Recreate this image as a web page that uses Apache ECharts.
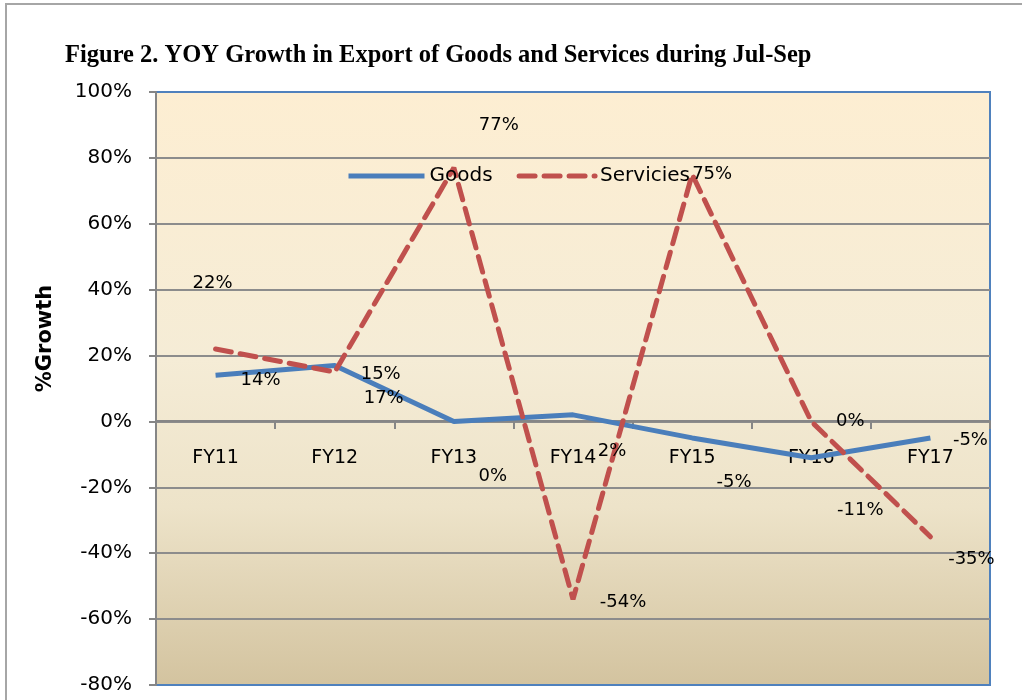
<!DOCTYPE html>
<html>
<head>
<meta charset="utf-8">
<script src="https://cdn.jsdelivr.net/npm/echarts@6/dist/echarts.min.js"></script>
<style>
  html, body { margin: 0; padding: 0; background: #fff; }
  #chart { width: 1022px; height: 700px; }
</style>
</head>
<body>
<div id="chart"></div>
<script>
var categories = ['FY11', 'FY12', 'FY13', 'FY14', 'FY15', 'FY16', 'FY17'];
var goods = [14, 17, 0, 2, -5, -11, -5];
var services = [22, 15, 77, -54, 75, 0, -35];
var yTicks = { min: -80, max: 100, step: 20 };

// where Excel left each data label, relative to its point
var goodsLabelShift = [[45, 5], [49, 33], [39, 55], [39, 36], [42, 44], [49, 53], [40, 2]];
var servicesLabelShift = [[-3, -66], [46, 2], [45, -42], [50, 3], [20, 0], [39, 0], [41, 23]];

var myChart = echarts.init(document.getElementById('chart'));

function withLabels(values, shifts) {
    return values.map(function (v, i) {
        return { value: v, label: { offset: shifts[i] } };
    });
}

var labelStyle = {
    show: true,
    position: 'inside',
    align: 'center',
    verticalAlign: 'middle',
    formatter: '{c}%',
    color: '#000',
    fontFamily: 'DejaVu Sans',
    fontSize: 18
};

// plot box (Excel plot area) and where the 0% line falls in it
var plotTop = 92, plotBottom = 15;
var zeroFromBottom = Math.round((700 - plotBottom - plotTop) * (0 - yTicks.min) / (yTicks.max - yTicks.min));

var option = {
    backgroundColor: '#fff',
    animation: false,
    title: {
        text: 'Figure 2. YOY Growth in Export of Goods and Services during Jul-Sep',
        left: 60,
        top: 38,
        textStyle: {
            fontFamily: 'Liberation Serif',
            fontWeight: 'bold',
            fontSize: 24.5,
            color: '#000'
        }
    },
    legend: {
        left: 341,
        top: 161,
        itemWidth: 76,
        itemHeight: 14,
        itemGap: 24,
        itemStyle: { opacity: 0 },
        lineStyle: { width: 5 },
        textStyle: { fontFamily: 'DejaVu Sans', fontSize: 20, color: '#000' },
        data: ['Goods', 'Servicies']
    },
    graphic: [{
        type: 'rect',
        z: -1,
        shape: { x: 6, y: 4, width: 1100, height: 800 },
        style: { fill: 'none', stroke: '#a6a6a6', lineWidth: 2 }
    }],
    grid: {
        left: 156,
        top: plotTop,
        right: 32,
        bottom: plotBottom,
        outerBoundsMode: 'none',
        containLabel: false,
        show: true,
        borderColor: '#4f81bd',
        borderWidth: 2,
        backgroundColor: {
            type: 'linear', x: 0, y: 0, x2: 0, y2: 1,
            colorStops: [
                { offset: 0, color: '#fdeed2' },
                { offset: 0.45, color: '#f5ecd6' },
                { offset: 0.7, color: '#ede3c9' },
                { offset: 1, color: '#d3c39f' }
            ]
        }
    },
    xAxis: {
        type: 'category',
        data: categories,
        position: 'bottom',
        offset: -zeroFromBottom,
        axisLine: { onZero: false, lineStyle: { color: '#868686', width: 2 } },
        axisTick: { show: true, length: 8, lineStyle: { color: '#868686', width: 2 } },
        axisLabel: {
            margin: 28,
            color: '#000',
            fontFamily: 'DejaVu Sans',
            fontSize: 19
        }
    },
    yAxis: {
        type: 'value',
        min: yTicks.min,
        max: yTicks.max,
        interval: yTicks.step,
        name: '%Growth',
        nameLocation: 'middle',
        nameGap: 100,
        nameTextStyle: {
            fontFamily: 'DejaVu Sans',
            fontWeight: 'bold',
            fontSize: 21,
            color: '#000',
            padding: [0, 0, 0, 100]
        },
        axisLine: { show: true, lineStyle: { color: '#868686', width: 2 } },
        axisTick: { show: true, length: 7, lineStyle: { color: '#868686', width: 2 } },
        axisLabel: {
            formatter: '{value}%',
            margin: 24,
            color: '#000',
            fontFamily: 'DejaVu Sans',
            fontSize: 20
        },
        splitLine: { showMinLine: false, showMaxLine: false, lineStyle: { color: '#8c8c8c', width: 2 } }
    },
    series: [
        {
            name: 'Goods',
            type: 'line',
            data: withLabels(goods, goodsLabelShift),
            symbol: 'circle',
            symbolSize: 0,
            showSymbol: true,
            color: '#4a7ebb',
            lineStyle: { color: '#4a7ebb', width: 5 },
            label: labelStyle
        },
        {
            name: 'Servicies',
            type: 'line',
            data: withLabels(services, servicesLabelShift),
            symbol: 'circle',
            symbolSize: 0,
            showSymbol: true,
            color: '#c0504d',
            lineStyle: { color: '#c0504d', width: 5, type: [16, 9], cap: 'round' },
            label: labelStyle
        }
    ]
};

myChart.setOption(option);
</script>
</body>
</html>
